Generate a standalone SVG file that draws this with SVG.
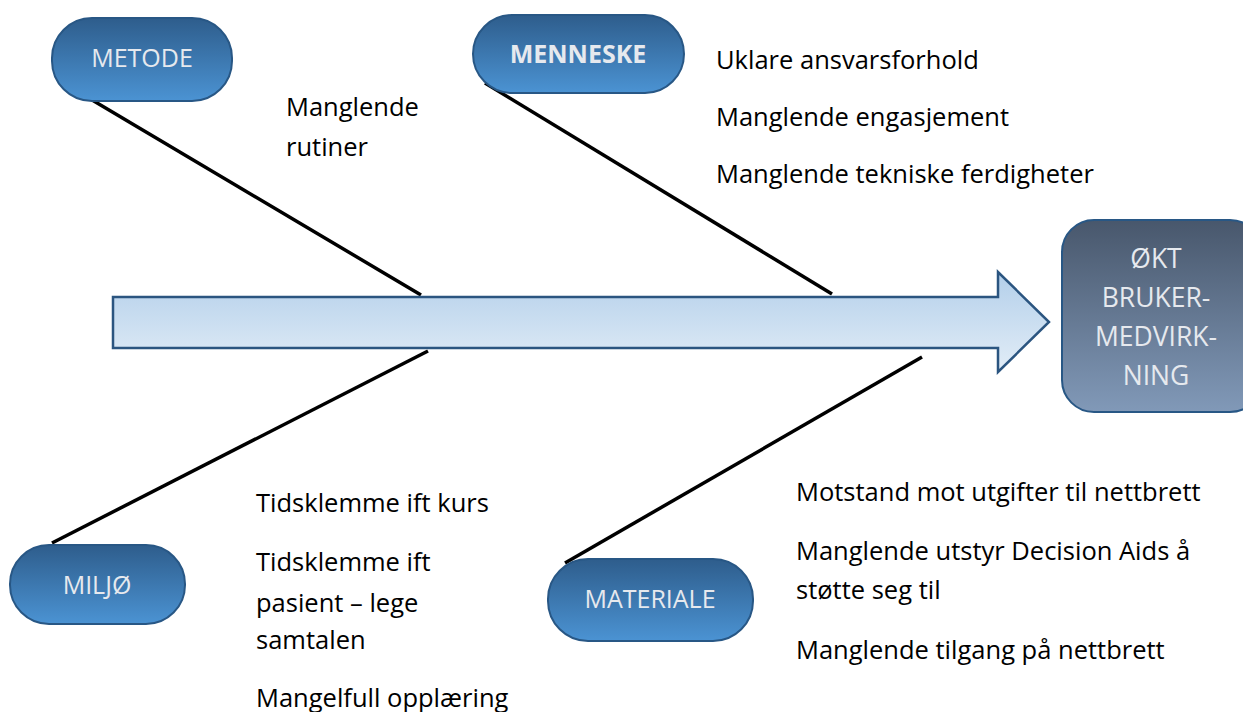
<svg xmlns="http://www.w3.org/2000/svg" width="1243" height="712" viewBox="0 0 1243 712">
<defs>
<linearGradient id="pill" x1="0" y1="0" x2="0" y2="1">
<stop offset="0" stop-color="#2e5d8c"/><stop offset="1" stop-color="#4b93d3"/>
</linearGradient>
<linearGradient id="goal" x1="0" y1="0" x2="0" y2="1">
<stop offset="0" stop-color="#48576c"/><stop offset="1" stop-color="#8199b8"/>
</linearGradient>
<linearGradient id="spine" x1="0" y1="0" x2="0" y2="1">
<stop offset="0" stop-color="#b3cfea"/><stop offset="1" stop-color="#e2edf7"/>
</linearGradient>
</defs>
<style>
.pill{fill:url(#pill);stroke:#285785;stroke-width:2}
.lbl{font-family:"Open Sans","Liberation Sans",sans-serif;font-size:25px;fill:#e6e9ee;text-anchor:middle}
.big{font-size:26.5px}
.t{font-family:"Open Sans","Liberation Sans",sans-serif;font-size:25.5px;fill:#000}
.bone{stroke:#000;stroke-width:3.5;fill:none}
</style>
<rect width="1243" height="712" fill="#fff"/>
<g id="connectors">
<line class="bone" x1="82" y1="94" x2="421" y2="295"/>
<line class="bone" x1="485" y1="83" x2="832" y2="294"/>
<line class="bone" x1="52" y1="543" x2="428" y2="351"/>
<line class="bone" x1="565" y1="563" x2="922" y2="357"/>
</g>
<g id="spine-arrow">
<path d="M113,297 H998 V272 L1049,322 L998,372 V348 H113 Z" fill="url(#spine)" stroke="#2b5580" stroke-width="2.5"/>
</g>
<g id="metode">
<rect class="pill" x="52" y="18" width="180" height="83" rx="40"/>
<text class="lbl" x="142" y="67">METODE</text>
</g>
<g id="menneske">
<rect class="pill" x="473" y="15" width="211" height="78" rx="39"/>
<text class="lbl" x="578" y="63" font-weight="bold">MENNESKE</text>
</g>
<g id="miljo">
<rect class="pill" x="10" y="545" width="175" height="79" rx="39"/>
<text class="lbl" x="97" y="594">MILJØ</text>
</g>
<g id="materiale">
<rect class="pill" x="548" y="559" width="205" height="82" rx="40"/>
<text class="lbl" x="650" y="608">MATERIALE</text>
</g>
<g id="goal-node">
<rect x="1062" y="220" width="200" height="192" rx="32" fill="url(#goal)" stroke="#285785" stroke-width="2"/>
<text class="lbl big" x="1156" y="268">ØKT</text>
<text class="lbl big" x="1156" y="307">BRUKER-</text>
<text class="lbl big" x="1156" y="346">MEDVIRK-</text>
<text class="lbl big" x="1156" y="385">NING</text>
</g>
<g id="texts">
<text class="t" x="286" y="116">Manglende</text>
<text class="t" x="286" y="156">rutiner</text>
<text class="t" x="716" y="69">Uklare ansvarsforhold</text>
<text class="t" x="716" y="126">Manglende engasjement</text>
<text class="t" x="716" y="183">Manglende tekniske ferdigheter</text>
<text class="t" x="256" y="512">Tidsklemme ift kurs</text>
<text class="t" x="256" y="571">Tidsklemme ift</text>
<text class="t" x="256" y="612">pasient – lege</text>
<text class="t" x="256" y="649">samtalen</text>
<text class="t" x="256" y="707">Mangelfull opplæring</text>
<text class="t" x="796" y="501">Motstand mot utgifter til nettbrett</text>
<text class="t" x="796" y="560">Manglende utstyr Decision Aids å</text>
<text class="t" x="796" y="599">støtte seg til</text>
<text class="t" x="796" y="659">Manglende tilgang på nettbrett</text>
</g>
</svg>
